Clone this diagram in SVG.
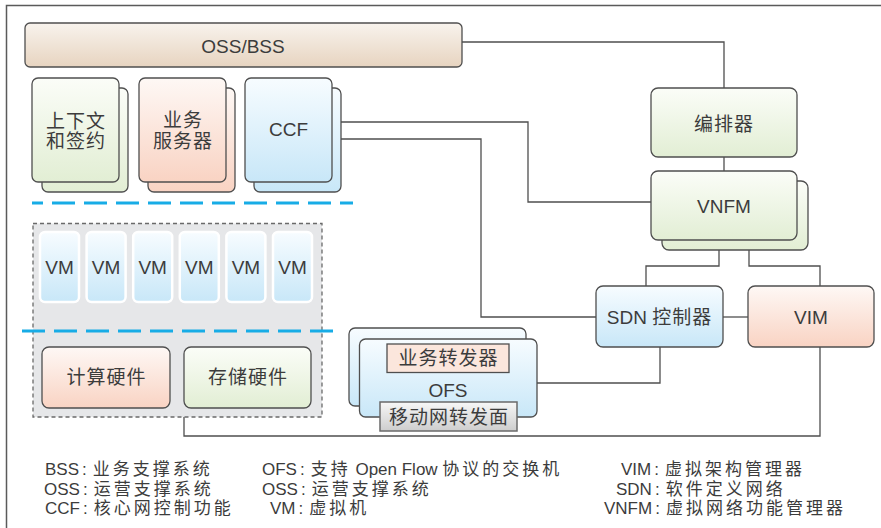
<svg xmlns="http://www.w3.org/2000/svg" width="881" height="528" viewBox="0 0 881 528">
  <defs>
    <linearGradient id="gTan" x1="0" y1="0" x2="0" y2="1">
      <stop offset="0" stop-color="#f8f3ed"/>
      <stop offset="1" stop-color="#e7d4c0"/>
    </linearGradient>
    <linearGradient id="gGreen" x1="0" y1="0" x2="0" y2="1">
      <stop offset="0" stop-color="#fbfdf8"/>
      <stop offset="1" stop-color="#e2eed4"/>
    </linearGradient>
    <linearGradient id="gPink" x1="0" y1="0" x2="0" y2="1">
      <stop offset="0" stop-color="#fef8f5"/>
      <stop offset="1" stop-color="#f9d3c3"/>
    </linearGradient>
    <linearGradient id="gBlue" x1="0" y1="0" x2="0" y2="1">
      <stop offset="0" stop-color="#f7fcff"/>
      <stop offset="1" stop-color="#c8e7f8"/>
    </linearGradient>
    <linearGradient id="gGray" x1="0" y1="0" x2="0" y2="1">
      <stop offset="0" stop-color="#f7f7f7"/>
      <stop offset="1" stop-color="#cdcdcd"/>
    </linearGradient>
    <style>
      .box { stroke: #4f4f4f; stroke-width: 1.3; }
      .green { fill: url(#gGreen); }
      .pink { fill: url(#gPink); }
      .blue { fill: url(#gBlue); }
      .tan { fill: url(#gTan); }
      .vm { fill: url(#gBlue); stroke: #ffffff; stroke-width: 2.5; }
      .conn { fill: none; stroke: #4f4f4f; stroke-width: 1.3; }
      .sep { fill: none; stroke: #17ace6; stroke-width: 3; stroke-dasharray: 23 9; }
      .lbl { font-family: "Liberation Sans", "Noto Sans CJK SC", sans-serif; font-size: 19px; fill: #3c3c3c; text-anchor: middle; }
      .cjk { letter-spacing: 1px; }
      .lg { font-family: "Liberation Sans", "Noto Sans CJK SC", sans-serif; font-size: 17px; fill: #3c3c3c; }
      .lc { letter-spacing: 3px; }
    </style>
  </defs>

  <!-- outer frame (left and top edges) -->
  <path d="M6.5,528 V5.5 H881" fill="none" stroke="#5a5a5a" stroke-width="1.5"/>

  <!-- connectors -->
  <g id="connectors">
    <path class="conn" d="M462,42 H724 V88"/>
    <path class="conn" d="M724,157 V171"/>
    <path class="conn" d="M341,122 H528 V202 H651"/>
    <path class="conn" d="M341,139 H481 V317 H596"/>
    <path class="conn" d="M719,250 V266 H646 V286"/>
    <path class="conn" d="M749,250 V266 H820 V286"/>
    <path class="conn" d="M723,317 H748"/>
    <path class="conn" d="M660,347 V383 H537"/>
    <path class="conn" d="M820,347 V436 H184 V417"/>
  </g>

  <!-- layer separators -->
  <path class="sep" d="M32,203 H353" stroke-dashoffset="12"/>

  <g id="oss-bss">
    <rect class="box tan" x="25" y="23" width="437" height="44" rx="5"/>
    <text class="lbl" x="243" y="53">OSS/BSS</text>
  </g>

  <g id="context">
    <rect class="box green" x="42" y="88" width="86" height="104" rx="6"/>
    <rect class="box green" x="32" y="78" width="87" height="104" rx="6"/>
    <text class="lbl cjk" x="76" y="128">上下文</text>
    <text class="lbl cjk" x="76" y="148">和签约</text>
  </g>

  <g id="service-server">
    <rect class="box pink" x="148" y="88" width="87" height="104" rx="6"/>
    <rect class="box pink" x="139" y="78" width="87" height="104" rx="6"/>
    <text class="lbl cjk" x="183" y="127">业务</text>
    <text class="lbl cjk" x="183" y="148">服务器</text>
  </g>

  <g id="ccf">
    <rect class="box blue" x="254" y="88" width="87" height="104" rx="6"/>
    <rect class="box blue" x="245" y="78" width="87" height="104" rx="6"/>
    <text class="lbl" x="288.5" y="136">CCF</text>
  </g>

  <g id="orchestrator">
    <rect class="box green" x="651" y="88" width="146" height="69" rx="7"/>
    <text class="lbl cjk" x="724" y="131">编排器</text>
  </g>

  <g id="vnfm">
    <rect class="box green" x="662" y="181" width="146" height="69" rx="7"/>
    <rect class="box green" x="651" y="171" width="146" height="69" rx="7"/>
    <text class="lbl" x="724" y="213">VNFM</text>
  </g>

  <g id="sdn-controller">
    <rect class="box blue" x="596" y="286" width="127" height="61" rx="7"/>
    <text class="lbl" x="659.5" y="324">SDN <tspan class="cjk">控制器</tspan></text>
  </g>

  <g id="vim">
    <rect class="box pink" x="748" y="286" width="126" height="61" rx="7"/>
    <text class="lbl" x="811" y="324">VIM</text>
  </g>

  <g id="compute-pool">
    <rect x="33" y="223.5" width="289" height="193.5" fill="#e6e7e9" stroke="#6a6a6a" stroke-width="1.3" stroke-dasharray="4 3"/>
    <path class="sep" d="M22,331 H337"/>
    <g id="vms">
      <rect class="vm" x="40" y="232" width="39" height="70" rx="5"/>
      <rect class="vm" x="86.6" y="232" width="39" height="70" rx="5"/>
      <rect class="vm" x="133.2" y="232" width="39" height="70" rx="5"/>
      <rect class="vm" x="179.8" y="232" width="39" height="70" rx="5"/>
      <rect class="vm" x="226.4" y="232" width="39" height="70" rx="5"/>
      <rect class="vm" x="273" y="232" width="39" height="70" rx="5"/>
      <text class="lbl" x="59.5" y="274">VM</text>
      <text class="lbl" x="106.1" y="274">VM</text>
      <text class="lbl" x="152.7" y="274">VM</text>
      <text class="lbl" x="199.3" y="274">VM</text>
      <text class="lbl" x="245.9" y="274">VM</text>
      <text class="lbl" x="292.5" y="274">VM</text>
    </g>
    <g id="compute-hw">
      <rect class="box pink" x="42" y="347" width="128" height="61" rx="7"/>
      <text class="lbl cjk" x="106.5" y="384">计算硬件</text>
    </g>
    <g id="storage-hw">
      <rect class="box green" x="184" y="347" width="127" height="61" rx="7"/>
      <text class="lbl cjk" x="248" y="384">存储硬件</text>
    </g>
  </g>

  <g id="ofs">
    <rect class="box blue" x="349" y="328" width="177" height="78" rx="6"/>
    <rect class="box blue" x="359.5" y="339" width="177.5" height="78" rx="6"/>
    <rect x="387" y="344" width="122" height="28.5" fill="#fbe6dc" stroke="#4f4f4f" stroke-width="1.3"/>
    <text class="lbl cjk" x="448.5" y="365">业务转发器</text>
    <text class="lbl" x="448" y="397">OFS</text>
    <rect x="380" y="402" width="137" height="29" fill="url(#gGray)" stroke="#6a6a6a" stroke-width="1.5"/>
    <text class="lbl cjk" x="449" y="423.5">移动网转发面</text>
  </g>

  <!-- abbreviation key -->
  <g id="legend">
    <text class="lg" x="45" y="475">BSS<tspan dx="3">:</tspan><tspan class="lc" dx="6">业务支撑系统</tspan></text>
    <text class="lg" x="44" y="495">OSS<tspan dx="3">:</tspan><tspan class="lc" dx="6">运营支撑系统</tspan></text>
    <text class="lg" x="45" y="514">CCF<tspan dx="3">:</tspan><tspan class="lc" dx="6">核心网控制功能</tspan></text>

    <text class="lg" x="262" y="475">OFS<tspan dx="3">:</tspan><tspan class="lc" dx="6">支持</tspan> Open Flow <tspan class="lc">协议的交换机</tspan></text>
    <text class="lg" x="262" y="495">OSS<tspan dx="3">:</tspan><tspan class="lc" dx="6">运营支撑系统</tspan></text>
    <text class="lg" x="270" y="514">VM<tspan dx="3">:</tspan><tspan class="lc" dx="6">虚拟机</tspan></text>

    <text class="lg" x="621" y="475">VIM<tspan dx="3">:</tspan><tspan class="lc" dx="6">虚拟架构管理器</tspan></text>
    <text class="lg" x="616" y="495">SDN<tspan dx="3">:</tspan><tspan class="lc" dx="6">软件定义网络</tspan></text>
    <text class="lg" x="604" y="514">VNFM<tspan dx="3">:</tspan><tspan class="lc" dx="6">虚拟网络功能管理器</tspan></text>
  </g>
</svg>
